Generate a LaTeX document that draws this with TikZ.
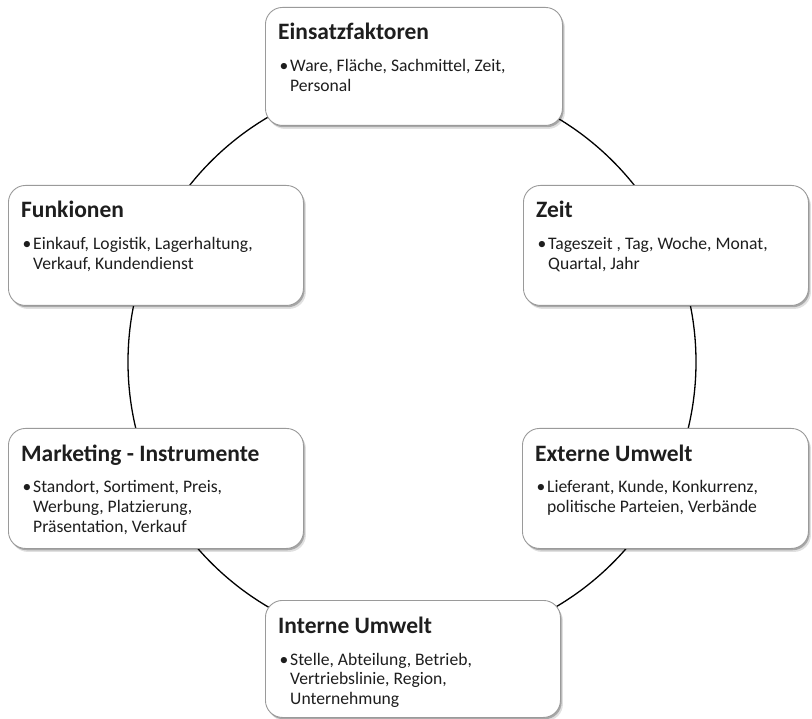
\documentclass[tikz,border=0pt]{standalone}
\usepackage{fontspec}
\setmainfont{Carlito}
\usetikzlibrary{calc,shadows}
\definecolor{boxline}{HTML}{9A9A9A}
\definecolor{txt}{HTML}{1E1E1E}
\tikzset{
  box/.style={draw=boxline, line width=0.9pt, fill=white, rounded corners=17pt,
    anchor=north west, inner sep=0pt,
    drop shadow={shadow xshift=2.5pt, shadow yshift=-3.5pt, opacity=0.12, fill=black},
    drop shadow={shadow xshift=1.2pt, shadow yshift=-1.8pt, opacity=0.25, fill=black}},
  boxtitle/.style={anchor=base west, inner sep=0pt, text=txt,
    font=\fontsize{23.5}{27}\selectfont\bfseries},
  boxbody/.style={anchor=base west, inner sep=0pt, text=txt,
    font=\fontsize{17.6}{19.6}\selectfont},
  ring/.style={draw=black, line width=1.3pt}
}
\newcommand{\bodytext}[1]{\parbox[t]{265pt}{\raggedright\leavevmode\llap{•\hspace{1.8pt}}#1}}
\begin{document}
\begin{tikzpicture}[x=1pt,y=-1pt]
\useasboundingbox (0,0) rectangle (812,719);
\coordinate (c) at (412,362);
\draw[ring] (c) circle[radius=284];
% boxes
\node[box, minimum width=297pt, minimum height=118pt] (E) at (265,7) {};
\node[box, minimum width=295pt, minimum height=120pt] (F) at (8,185) {};
\node[box, minimum width=285pt, minimum height=120pt] (Z) at (523,185) {};
\node[box, minimum width=295pt, minimum height=120pt] (M) at (8,428) {};
\node[box, minimum width=286pt, minimum height=120pt] (X) at (522,428) {};
\node[box, minimum width=295pt, minimum height=117pt] (I) at (265,600) {};
% titles
\node[boxtitle] (Et) at ($(E.north west)+(13,33)$) {Einsatzfaktoren};
\node[boxtitle] (Ft) at ($(F.north west)+(13,33)$) {Funkionen};
\node[boxtitle] (Zt) at ($(Z.north west)+(13,33)$) {Zeit};
\node[boxtitle] (Mt) at ($(M.north west)+(13,33)$) {Marketing - Instrumente};
\node[boxtitle] (Xt) at ($(X.north west)+(13,33)$) {Externe Umwelt};
\node[boxtitle] (It) at ($(I.north west)+(13,33)$) {Interne Umwelt};
% bodies
\node[boxbody] (Eb) at ($(E.north west)+(25,65)$) {\bodytext{Ware, Fläche, Sachmittel, Zeit,\\Personal}};
\node[boxbody] (Fb) at ($(F.north west)+(25,65)$) {\bodytext{Einkauf, Logistik, Lagerhaltung,\\Verkauf, Kundendienst}};
\node[boxbody] (Zb) at ($(Z.north west)+(25,65)$) {\bodytext{Tageszeit , Tag, Woche, Monat,\\Quartal, Jahr}};
\node[boxbody] (Mb) at ($(M.north west)+(25,65)$) {\bodytext{Standort, Sortiment, Preis,\\Werbung, Platzierung,\\Präsentation, Verkauf}};
\node[boxbody] (Xb) at ($(X.north west)+(25,65)$) {\bodytext{Lieferant, Kunde, Konkurrenz,\\politische Parteien, Verbände}};
\node[boxbody] (Ib) at ($(I.north west)+(25,65)$) {\bodytext{Stelle, Abteilung, Betrieb,\\Vertriebslinie, Region,\\Unternehmung}};
\end{tikzpicture}
\end{document}
